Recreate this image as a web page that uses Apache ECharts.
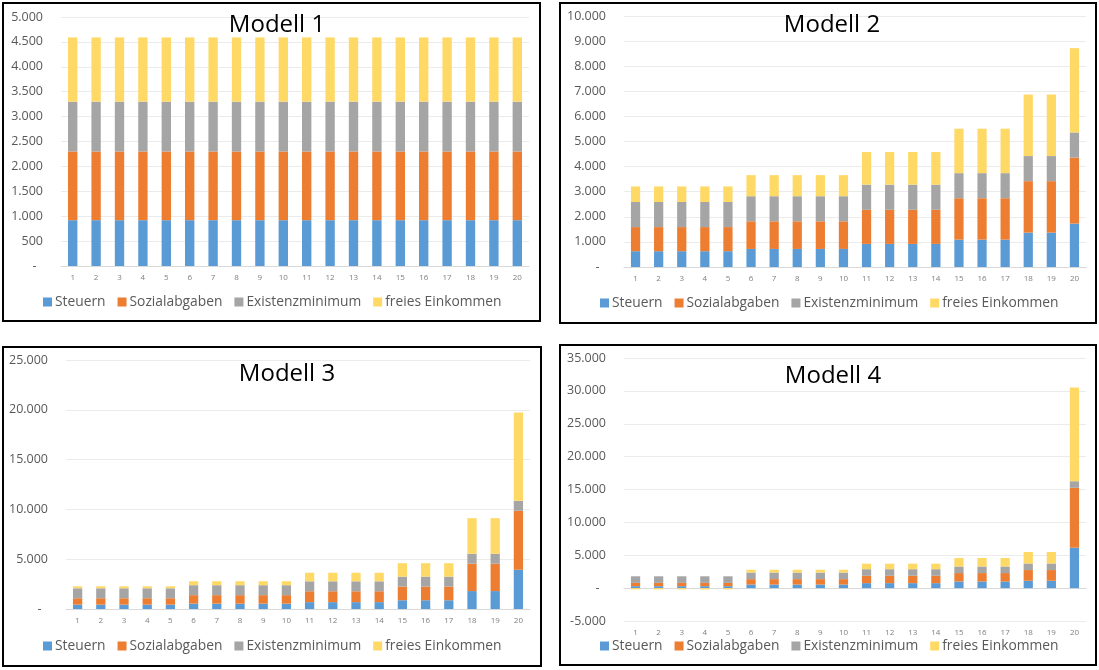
<!DOCTYPE html>
<html>
<head>
<meta charset="utf-8">
<script src="https://cdn.jsdelivr.net/npm/echarts@6/dist/echarts.min.js"></script>
<style>
html,body{margin:0;padding:0;background:#fff;}
#c{width:1099px;height:670px;}
</style>
</head>
<body>
<div id="c"></div>
<script>
const categories = ['1','2','3','4','5','6','7','8','9','10','11','12','13','14','15','16','17','18','19','20'];
const seriesNames = ['Steuern','Sozialabgaben','Existenzminimum','freies Einkommen'];
const titles = ['Modell 1','Modell 2','Modell 3','Modell 4'];

const m1Steuern = [920,920,920,920,920,920,920,920,920,920,920,920,920,920,920,920,920,920,920,920];
const m1Sozial  = [1380,1380,1380,1380,1380,1380,1380,1380,1380,1380,1380,1380,1380,1380,1380,1380,1380,1380,1380,1380];
const m1Exist   = [1000,1000,1000,1000,1000,1000,1000,1000,1000,1000,1000,1000,1000,1000,1000,1000,1000,1000,1000,1000];
const m1Frei    = [1290,1290,1290,1290,1290,1290,1290,1290,1290,1290,1290,1290,1290,1290,1290,1290,1290,1290,1290,1290];

const m2Steuern = [630,630,630,630,630,720,720,720,720,720,920,920,920,920,1090,1090,1090,1370,1370,1730];
const m2Sozial  = [960,960,960,960,960,1100,1100,1100,1100,1100,1360,1360,1360,1360,1650,1650,1650,2050,2050,2630];
const m2Exist   = [1000,1000,1000,1000,1000,1000,1000,1000,1000,1000,1000,1000,1000,1000,1000,1000,1000,1000,1000,1000];
const m2Frei    = [620,620,620,620,620,840,840,840,840,840,1300,1300,1300,1300,1770,1770,1770,2450,2450,3360];

const m3Steuern = [440,440,440,440,440,540,540,540,540,540,690,690,690,690,880,880,880,1800,1800,3940];
const m3Sozial  = [640,640,640,640,640,850,850,850,850,850,1090,1090,1090,1090,1370,1370,1370,2750,2750,5920];
const m3Exist   = [1000,1000,1000,1000,1000,1000,1000,1000,1000,1000,1000,1000,1000,1000,1000,1000,1000,1000,1000,1000];
const m3Frei    = [200,200,200,200,200,400,400,400,400,400,860,860,860,860,1350,1350,1350,3570,3570,8860];

const m4Steuern = [300,300,300,300,300,550,550,550,550,550,760,760,760,760,1010,1010,1010,1120,1120,6150];
const m4Sozial  = [500,500,500,500,500,820,820,820,820,820,1120,1120,1120,1120,1280,1280,1280,1630,1630,9110];
const m4Exist   = [1000,1000,1000,1000,1000,1000,1000,1000,1000,1000,1000,1000,1000,1000,1000,1000,1000,1000,1000,1000];
const m4Frei    = [-200,-200,-200,-200,-200,420,420,420,420,420,840,840,840,840,1290,1290,1290,1740,1740,14250];

const yMin = [0,0,0,-5000];
const yMax = [5000,10000,25000,35000];
const yInterval = [500,1000,5000,5000];

const models = [
  [m1Steuern,m1Sozial,m1Exist,m1Frei],
  [m2Steuern,m2Sozial,m2Exist,m2Frei],
  [m3Steuern,m3Sozial,m3Exist,m3Frei],
  [m4Steuern,m4Sozial,m4Exist,m4Frei]
];

const colors = ['#5B9BD5','#ED7D31','#A5A5A5','#FFD966'];
const FONT = '"Open Sans", "Noto Sans", sans-serif';

const grids = [
  {left:61, top:17, width:468, height:249},
  {left:624, top:16, width:462, height:251},
  {left:66, top:360, width:464, height:249},
  {left:624, top:358, width:462, height:263}
];
const boxes = [
  {x:3, y:3, w:537, h:318},
  {x:560, y:3, w:536, h:320},
  {x:3, y:347, w:538, h:319},
  {x:560, y:345, w:536, h:320}
];
const titlePos = [{x:272,y:8},{x:827,y:8},{x:282,y:357},{x:828,y:359}];
const legendPos = [{x:38,y:290},{x:595,y:291},{x:38,y:634},{x:595,y:634}];

function fmt(v){
  if (v === 0) return '-  ';
  const s = Math.abs(v).toString().replace(/\B(?=(\d{3})+(?!\d))/g, '.');
  return (v < 0 ? '-' : '') + s;
}

const option = {
  animation:false,
  color: colors,
  textStyle:{fontFamily:FONT},
  grid: grids,
  title: titles.map((t,i)=>({
    text:t, left:titlePos[i].x, top:titlePos[i].y, textAlign:'center',
    textStyle:{fontFamily:FONT, fontSize:24, fontWeight:'normal', color:'#000'}
  })),
  legend: legendPos.map((p,i)=>({
    left:p.x, top:p.y, data:seriesNames, icon:'rect', itemWidth:9, itemHeight:9, itemGap:12,
    textStyle:{fontFamily:FONT, fontSize:13.8, color:'#595959', padding:[0,0,0,-2]}
  })),
  xAxis: grids.map((g,i)=>({
    type:'category', gridIndex:i, data:categories,
    axisTick:{show:false},
    axisLine:{lineStyle:{color:'#D9D9D9'}},
    axisLabel:{fontSize:8, color:'#808080', margin:8, fontFamily:FONT, interval:0}
  })),
  yAxis: grids.map((g,i)=>({
    type:'value', gridIndex:i, min:yMin[i], max:yMax[i], interval:yInterval[i],
    axisLine:{show:false}, axisTick:{show:false},
    splitLine:{lineStyle:{color:'#EBEBEB'}},
    axisLabel:{fontSize:12.5, color:'#595959', margin:18, fontFamily:FONT, formatter:fmt}
  })),
  series: [],
  graphic: boxes.map(b=>({
    type:'rect', shape:{x:b.x, y:b.y, width:b.w, height:b.h},
    style:{fill:'none', stroke:'#000', lineWidth:2}, z:100
  }))
};

models.forEach((arrs,i)=>{
  arrs.forEach((d,k)=>{
    option.series.push({
      type:'bar', name:seriesNames[k], xAxisIndex:i, yAxisIndex:i,
      stack:'m'+i, data:d, barWidth:'40%',
      itemStyle:{color:colors[k]}
    });
  });
});

const chart = echarts.init(document.getElementById('c'));
chart.setOption(option);
</script>
</body>
</html>
